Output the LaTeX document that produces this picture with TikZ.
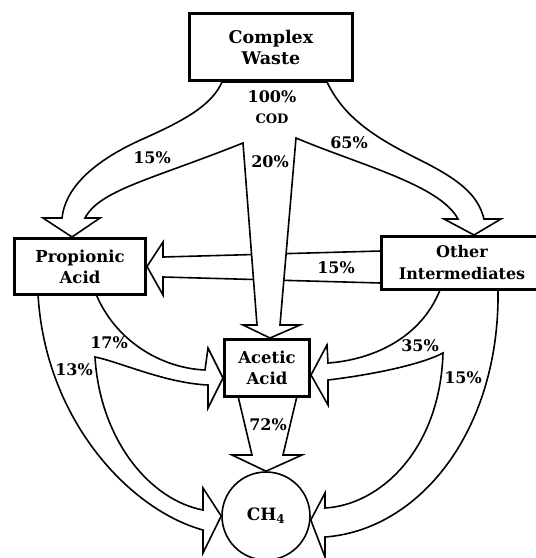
\documentclass[tikz,border=0pt]{standalone}
\usepackage{fontspec}
\setmainfont{DejaVu Serif}
\usetikzlibrary{shapes}
\usetikzlibrary{backgrounds}

\begin{document}
\begin{tikzpicture}[x=1pt,y=-1pt,
	box/.style={rectangle,draw,line width=3pt,inner sep=0pt,align=center,font=\fontsize{17.5}{21}\selectfont\bfseries},
	band/.style={draw,fill=white,line width=1.6pt},
	pct/.style={inner sep=0pt,font=\fontsize{16}{18}\selectfont\bfseries}]
		\useasboundingbox (0,0) rectangle (536,558);
		\node[box,minimum width=163pt,minimum height=67pt] (cw) at (271,47) {Complex\\Waste};
		\node[box,minimum width=131pt,minimum height=56pt,font=\fontsize{16.5}{21}\selectfont\bfseries] (pa) at (80,266.5) {Propionic\\Acid};
		\node[box,minimum width=161pt,minimum height=53pt,font=\fontsize{16}{22}\selectfont\bfseries] (oi) at (462,263) {Other\\Intermediates};
		\node[box,minimum width=85pt,minimum height=57pt,font=\fontsize{16.5}{21}\selectfont\bfseries] (aa) at (267,368) {Acetic\\Acid};
		\node[circle,draw,line width=1.6pt,inner sep=0pt,minimum size=88pt,font=\fontsize{17}{20}\selectfont\bfseries] (ch4) at (266,516) {CH\textsubscript{4}};
		\coordinate (sl) at (243,143);
		\coordinate (sr) at (296,138);
		\coordinate (pl) at (95,357);
		\coordinate (pr) at (443,353);

		\node[pct] (p100) at (272,97) {100\%};
		\node[pct,font=\fontsize{13}{15}\selectfont\bfseries] (cod) at (272,119) {COD};
		\node[pct] (p15a) at (152,158) {15\%};
		\node[pct] (p20) at (270,162) {20\%};
		\node[pct] (p65) at (349,143) {65\%};
		\node[pct] (p15b) at (336,268) {15\%};
		\node[pct] (p17) at (109,343) {17\%};
		\node[pct] (p13) at (74,370) {13\%};
		\node[pct] (p72) at (268,425) {72\%};
		\node[pct] (p35) at (420,346) {35\%};
		\node[pct] (p15c) at (463,378) {15\%};

		\begin{scope}[on background layer]
		\draw[band] (381,251) -- (163,257) -- (163,242) -- (pa.east) -- (163,295) -- (163,277) -- (381,283) -- cycle;
		\draw[band] ([xshift=-49pt]cw.south) .. controls (212,105) and (185,120) .. (145,138)
			.. controls (90,162) and (65,190) .. (62,218) -- (43,218) -- ([xshift=-8pt]pa.north) -- (100,218) -- (85,218)
			.. controls (100,190) and (150,180) .. (sl) -- (257,325) -- (243,325) -- ([xshift=3pt]aa.north)
			-- (300,325) -- (280,325) -- (sr) .. controls (360,165) and (440,185) .. (458,219) -- (444,219)
			-- ([xshift=12pt]oi.north) -- (501,219) -- (484,219) .. controls (478,195) and (460,180) .. (420,160)
			.. controls (380,140) and (345,120) .. ([xshift=56pt]cw.south) -- cycle;
		\draw[band] (238,396) -- (252,455) -- (232,455) -- (ch4.north) -- (302,455) -- (283,455) -- (297,396) -- cycle;
		\draw[band] (38,294) .. controls (45,420) and (130,510) .. (203,530) -- (203,553) -- (ch4.west) -- (203,488) -- (203,510)
			.. controls (150,500) and (100,440) .. (pl) .. controls (120,362) and (165,383) .. (208,385) -- (208,408)
			-- ([yshift=-10pt]aa.west) -- (208,348) -- (205,370) .. controls (160,368) and (115,340) .. (96,294) -- cycle;
		\draw[band] (498,290) .. controls (500,430) and (420,530) .. (325,537) -- (325,557) -- ([yshift=-4pt]ch4.east) -- (325,493) -- (325,508)
			.. controls (380,505) and (440,450) .. (pr) .. controls (420,365) and (370,375) .. (328,380) -- (328,405)
			-- ([yshift=-7pt]aa.east) -- (327,345) -- (328,363) .. controls (370,360) and (420,340) .. (440,290) -- cycle;
		\end{scope}
\end{tikzpicture}
\end{document}
